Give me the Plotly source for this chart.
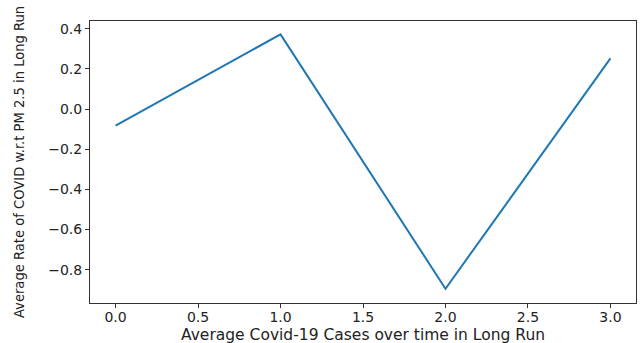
import plotly.graph_objects as go

x_vals = [0, 1, 2, 3]
y_vals = [-0.082, 0.372, -0.895, 0.252]
x_ticks = [0.0, 0.5, 1.0, 1.5, 2.0, 2.5, 3.0]
y_ticks = [-0.8, -0.6, -0.4, -0.2, 0.0, 0.2, 0.4]
x_title = "Average Covid-19 Cases over time in Long Run"
y_title = "Average Rate of COVID w.r.t PM 2.5 in Long Run"

L, R, T, B = 90, 7, 21, 40
W, H = 643, 343
pw, ph = W - L - R, H - T - B

fig = go.Figure()
fig.add_trace(go.Scatter(x=x_vals, y=y_vals, mode="lines",
                         line=dict(color="#1f77b4", width=2)))

axis_common = dict(showline=True, linecolor="#333333", linewidth=1, mirror=True,
                   ticks="outside", ticklen=4, tickcolor="#333333",
                   showgrid=False, zeroline=False, automargin=False,
                   tickfont=dict(family="DejaVu Sans", size=14, color="#222222"),
                   tickformat=".1f")

fig.update_layout(
    width=W, height=H,
    margin=dict(l=L, r=R, t=T, b=B),
    paper_bgcolor="white", plot_bgcolor="white",
    showlegend=False,
    xaxis=dict(range=[-0.155, 3.155], tickvals=x_ticks, ticklabelstandoff=-3, **axis_common),
    yaxis=dict(range=[-0.966, 0.4385], tickvals=y_ticks, **axis_common),
    annotations=[
        dict(text=x_title, xref="paper", yref="paper",
             x=0.5, y=(303 - 335) / ph, xanchor="center", yanchor="middle",
             showarrow=False,
             font=dict(family="DejaVu Sans", size=15.5, color="#222222")),
        dict(text=y_title, xref="paper", yref="paper",
             x=(18 - L) / pw, y=0.5, xanchor="center", yanchor="middle",
             textangle=-90, showarrow=False,
             font=dict(family="DejaVu Sans Condensed, Liberation Sans", size=14.6, color="#222222")),
    ],
)

fig.write_html("out.html", config={"displayModeBar": False},
               post_script="document.body.style.margin='0';document.body.style.overflow='hidden';")
